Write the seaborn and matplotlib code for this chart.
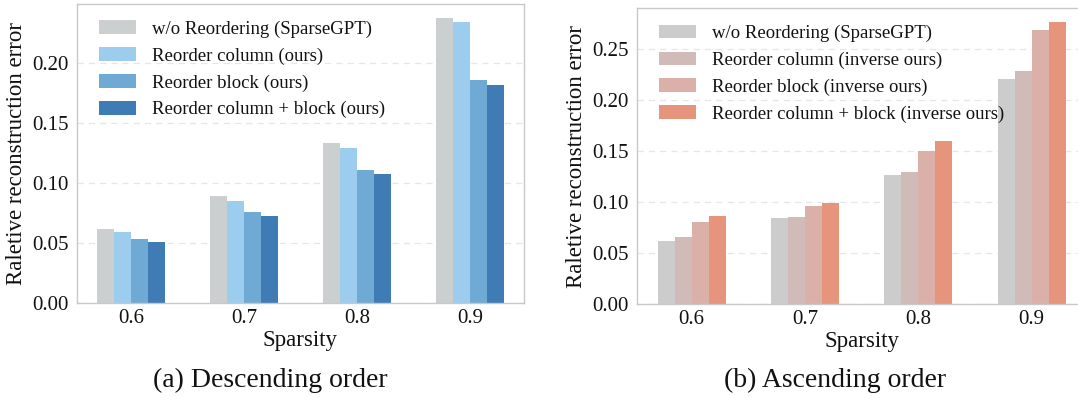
import numpy as np
import pandas as pd
import matplotlib
matplotlib.use("Agg")
import matplotlib.pyplot as plt
import seaborn as sns

# -------------------- #
# Data
# -------------------- #
sparsity = ["0.6", "0.7", "0.8", "0.9"]

desc_methods = ["w/o Reordering (SparseGPT)", "Reorder column (ours)",
                "Reorder block (ours)", "Reorder column + block (ours)"]
desc_base = [0.0615, 0.0888, 0.1335, 0.2370]
desc_col = [0.0590, 0.0847, 0.1294, 0.2337]
desc_block = [0.0530, 0.0756, 0.1103, 0.1857]
desc_both = [0.0508, 0.0723, 0.1070, 0.1815]

asc_methods = ["w/o Reordering (SparseGPT)", "Reorder column (inverse ours)",
               "Reorder block (inverse ours)", "Reorder column + block (inverse ours)"]
asc_base = [0.0618, 0.0843, 0.1265, 0.2206]
asc_col = [0.0657, 0.0853, 0.1294, 0.2284]
asc_block = [0.0804, 0.0961, 0.1500, 0.2686]
asc_both = [0.0863, 0.0990, 0.1598, 0.2765]

desc_colors = ["#cbcfd0", "#9dcdee", "#6eaad3", "#3f7cb6"]
asc_colors = ["#cccccc", "#d1bbb8", "#dbb0a8", "#e6947c"]


def to_long(methods, series):
    rows = []
    for m, vals in zip(methods, series):
        for s, v in zip(sparsity, vals):
            rows.append({"Sparsity": s, "Method": m, "Error": v})
    return pd.DataFrame(rows)


df_desc = to_long(desc_methods, [desc_base, desc_col, desc_block, desc_both])
df_asc = to_long(asc_methods, [asc_base, asc_col, asc_block, asc_both])

# -------------------- #
# Style
# -------------------- #
sns.set_style("white")
plt.rcParams["font.family"] = ["Liberation Serif", "DejaVu Serif"]
plt.rcParams["text.color"] = "#111111"
plt.rcParams["axes.labelcolor"] = "#111111"
plt.rcParams["xtick.labelcolor"] = "#111111"
plt.rcParams["ytick.labelcolor"] = "#111111"

fig = plt.figure(figsize=(10.78, 3.98), dpi=100)
ax1 = fig.add_axes([0.0714, 0.2387, 0.4147, 0.7513])
ax2 = fig.add_axes([0.5910, 0.2362, 0.4165, 0.7430])


def draw(ax, df, methods, colors):
    sns.barplot(data=df, x="Sparsity", y="Error", hue="Method",
                hue_order=methods, order=sparsity, palette=colors,
                width=0.6, gap=0, saturation=1, errorbar=None,
                linewidth=0, ax=ax, zorder=2)
    ax.set_xlim(-0.48, 3.48)
    ax.yaxis.grid(True, linestyle=(0, (5, 4)), color="#e6e6e6", linewidth=0.9, zorder=0)
    ax.set_axisbelow(True)
    for sp in ax.spines.values():
        sp.set_visible(True)
        sp.set_color("#c8c8c8")
        sp.set_linewidth(1.0)
    ax.tick_params(axis="y", which="major", length=4, width=1, color="#c8c8c8",
                   labelsize=15, pad=2)
    ax.tick_params(axis="x", which="major", length=0, labelsize=15, pad=4)
    ax.yaxis.set_major_formatter(matplotlib.ticker.FormatStrFormatter("%.2f"))
    ax.set_xlabel("Sparsity", fontsize=16.5, labelpad=2)
    ax.set_ylabel("Raletive reconstruction error", fontsize=16.5, labelpad=4)
    ax.legend(loc="upper left", frameon=False, fontsize=13.5,
              handlelength=2.0, handleheight=0.75, handletextpad=0.85,
              labelspacing=0.5, borderaxespad=0.4, bbox_to_anchor=(0.015, 0.995))


draw(ax1, df_desc, desc_methods, desc_colors)
draw(ax2, df_asc, asc_methods, asc_colors)

ax1.set_yticks(np.arange(0, 0.21, 0.05))
ax2.set_yticks(np.arange(0, 0.26, 0.05))

fig.text(270 / 1078, 1 - 380 / 398, "(a) Descending order", ha="center", va="center",
         fontsize=20)
fig.text(835 / 1078, 1 - 380 / 398, "(b) Ascending order", ha="center", va="center",
         fontsize=20)

fig.savefig("out.png", dpi=100)
